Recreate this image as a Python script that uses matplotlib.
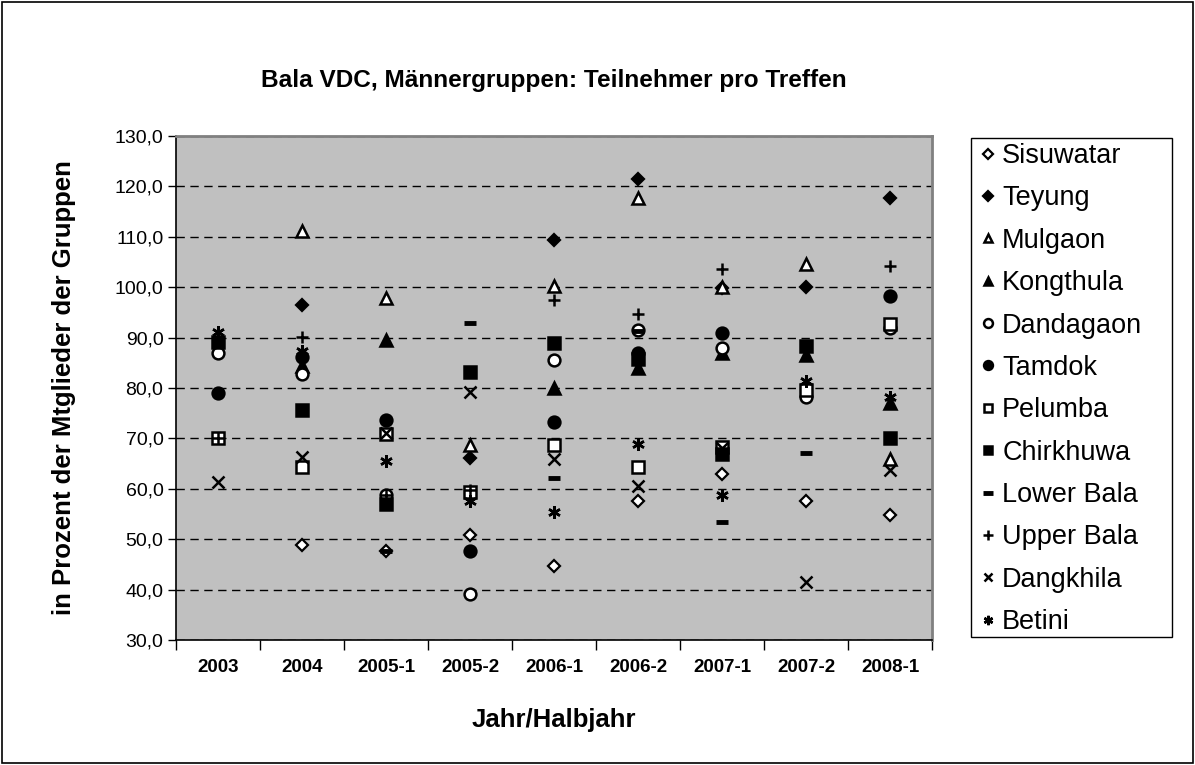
import numpy as np
import matplotlib
matplotlib.use("Agg")
import matplotlib.pyplot as plt
from matplotlib.patches import Rectangle
from matplotlib.ticker import FuncFormatter, FixedLocator

plt.rcParams['font.family'] = ['Liberation Sans', 'DejaVu Sans']

nan = np.nan

# ---- data ----
categories = ['2003', '2004', '2005-1', '2005-2', '2006-1', '2006-2', '2007-1', '2007-2', '2008-1']

sisuwatar  = [nan, 48.8, 47.7, 50.8, 44.7, 57.5, 63.0, 57.6, 54.9]
teyung     = [nan, 96.4, nan, 66.1, 109.4, 121.5, 99.8, 100.0, 117.6]
mulgaon    = [nan, 111.1, 97.8, 68.6, 100.2, 117.7, 100.0, 104.7, 66.0]
kongthula  = [nan, 84.3, 89.6, nan, 80.0, 84.0, 87.0, 86.5, 77.0]
dandagaon  = [87.0, 82.8, 58.8, 39.1, 85.5, 91.6, 87.9, 78.3, 92.0]
tamdok     = [79.1, 86.2, 73.6, 47.7, 73.3, 86.9, 90.9, nan, 98.2]
pelumba    = [70.1, 64.4, 70.8, 59.3, 68.6, 64.4, 68.3, 79.6, 92.6]
chirkhuwa  = [89.2, 75.7, 57.0, 83.2, 88.9, 85.8, 67.0, 88.3, 70.1]
lower_bala = [nan, nan, 47.7, 92.8, 62.1, 91.3, 53.4, 67.2, nan]
upper_bala = [70.1, 90.2, 58.8, 59.8, 97.5, 94.7, 103.6, nan, 104.3]
dangkhila  = [61.3, 66.3, 71.0, 79.2, 66.0, 60.6, 68.0, 41.5, 63.8]
betini     = [91.2, 87.4, 65.6, 57.5, 55.4, 68.9, 58.7, 81.3, 78.3]

series_names = ['Sisuwatar', 'Teyung', 'Mulgaon', 'Kongthula', 'Dandagaon', 'Tamdok',
                'Pelumba', 'Chirkhuwa', 'Lower Bala', 'Upper Bala', 'Dangkhila', 'Betini']
series_values = [sisuwatar, teyung, mulgaon, kongthula, dandagaon, tamdok,
                 pelumba, chirkhuwa, lower_bala, upper_bala, dangkhila, betini]

# marker styles: (marker, facecolor, size, edgewidth)
styles = [
    ('D', 'white', 6.5, 1.6),
    ('D', 'black', 6.5, 1.6),
    ('^', 'white', 8, 1.8),
    ('^', 'black', 8, 1.8),
    ('o', 'white', 8.5, 1.8),
    ('o', 'black', 8.5, 1.8),
    ('s', 'white', 8, 1.8),
    ('s', 'black', 8, 1.8),
    ('_', 'black', 9, 3.5),
    ('+', 'black', 9, 1.8),
    ('x', 'black', 8.5, 1.8),
    ((6, 2, 0), 'black', 9, 1.8),
]

W, H = 1195, 765

# ---- figure ----
fig = plt.figure(figsize=(W / 100, H / 100), dpi=100)
ax = fig.add_axes([176 / W, 1 - 640 / H, (932 - 176) / W, (640 - 136) / H])
ax.set_facecolor('#c0c0c0')

x = np.arange(len(categories))
for name, vals, (m, fc, ms, mew) in zip(series_names, series_values, styles):
    ax.plot(x, vals, linestyle='none', marker=m, markerfacecolor=fc,
            markeredgecolor='black', markersize=ms, markeredgewidth=mew,
            label=name, zorder=3)

ax.set_xlim(-0.5, len(categories) - 0.5)
ax.set_ylim(30, 130)

# y axis
ax.set_yticks(np.arange(30, 131, 10))
ax.yaxis.set_major_formatter(FuncFormatter(lambda v, p: f'{v:.1f}'.replace('.', ',')))
ax.tick_params(axis='y', direction='out', length=6, width=1, labelsize=14, pad=3)
ax.yaxis.grid(True, linestyle=(0, (6, 4)), color='black', linewidth=1)
ax.set_axisbelow(True)

# x axis: labels centered, tick marks at boundaries
ax.set_xticks(x)
ax.set_xticklabels(categories, fontweight='bold', fontsize=13.5)
ax.tick_params(axis='x', which='major', length=0, pad=14)
ax.xaxis.set_minor_locator(FixedLocator(np.arange(-0.5, len(categories), 1)))
ax.tick_params(axis='x', which='minor', direction='out', length=7, width=1)

for s in ['left', 'bottom']:
    ax.spines[s].set_color('black')
    ax.spines[s].set_linewidth(1.2)
for s in ['top', 'right']:
    ax.spines[s].set_color('#808080')
    ax.spines[s].set_linewidth(2)

ax.set_xlabel('Jahr/Halbjahr', fontweight='bold', fontsize=18.5, labelpad=23)
ax.set_ylabel('in Prozent der Mtglieder der Gruppen', fontweight='bold', fontsize=18.5, labelpad=28)

fig.text(554 / W, 1 - 80 / H, 'Bala VDC, Männergruppen: Teilnehmer pro Treffen',
         ha='center', va='center', fontweight='bold', fontsize=17.6)

# legend: entries without frame, box drawn separately
leg = ax.legend(loc='upper left', bbox_to_anchor=(980 / W, 1 - 143 / H),
                bbox_transform=fig.transFigure, frameon=False,
                fontsize=19.5, labelspacing=0.605, handlelength=0.6,
                handletextpad=0.22, borderpad=0, markerscale=0.75, borderaxespad=0)
fig.patches.append(Rectangle((971 / W, 1 - 637 / H), (1172 - 971) / W, (637 - 138) / H,
                             transform=fig.transFigure, fill=False,
                             edgecolor='black', linewidth=1))

# outer chart border
fig.patches.append(Rectangle((2 / W, 2 / H), 1 - 4 / W, 1 - 4 / H,
                             transform=fig.transFigure, fill=False,
                             edgecolor='black', linewidth=1.2))

fig.savefig('out.png', dpi=100)
